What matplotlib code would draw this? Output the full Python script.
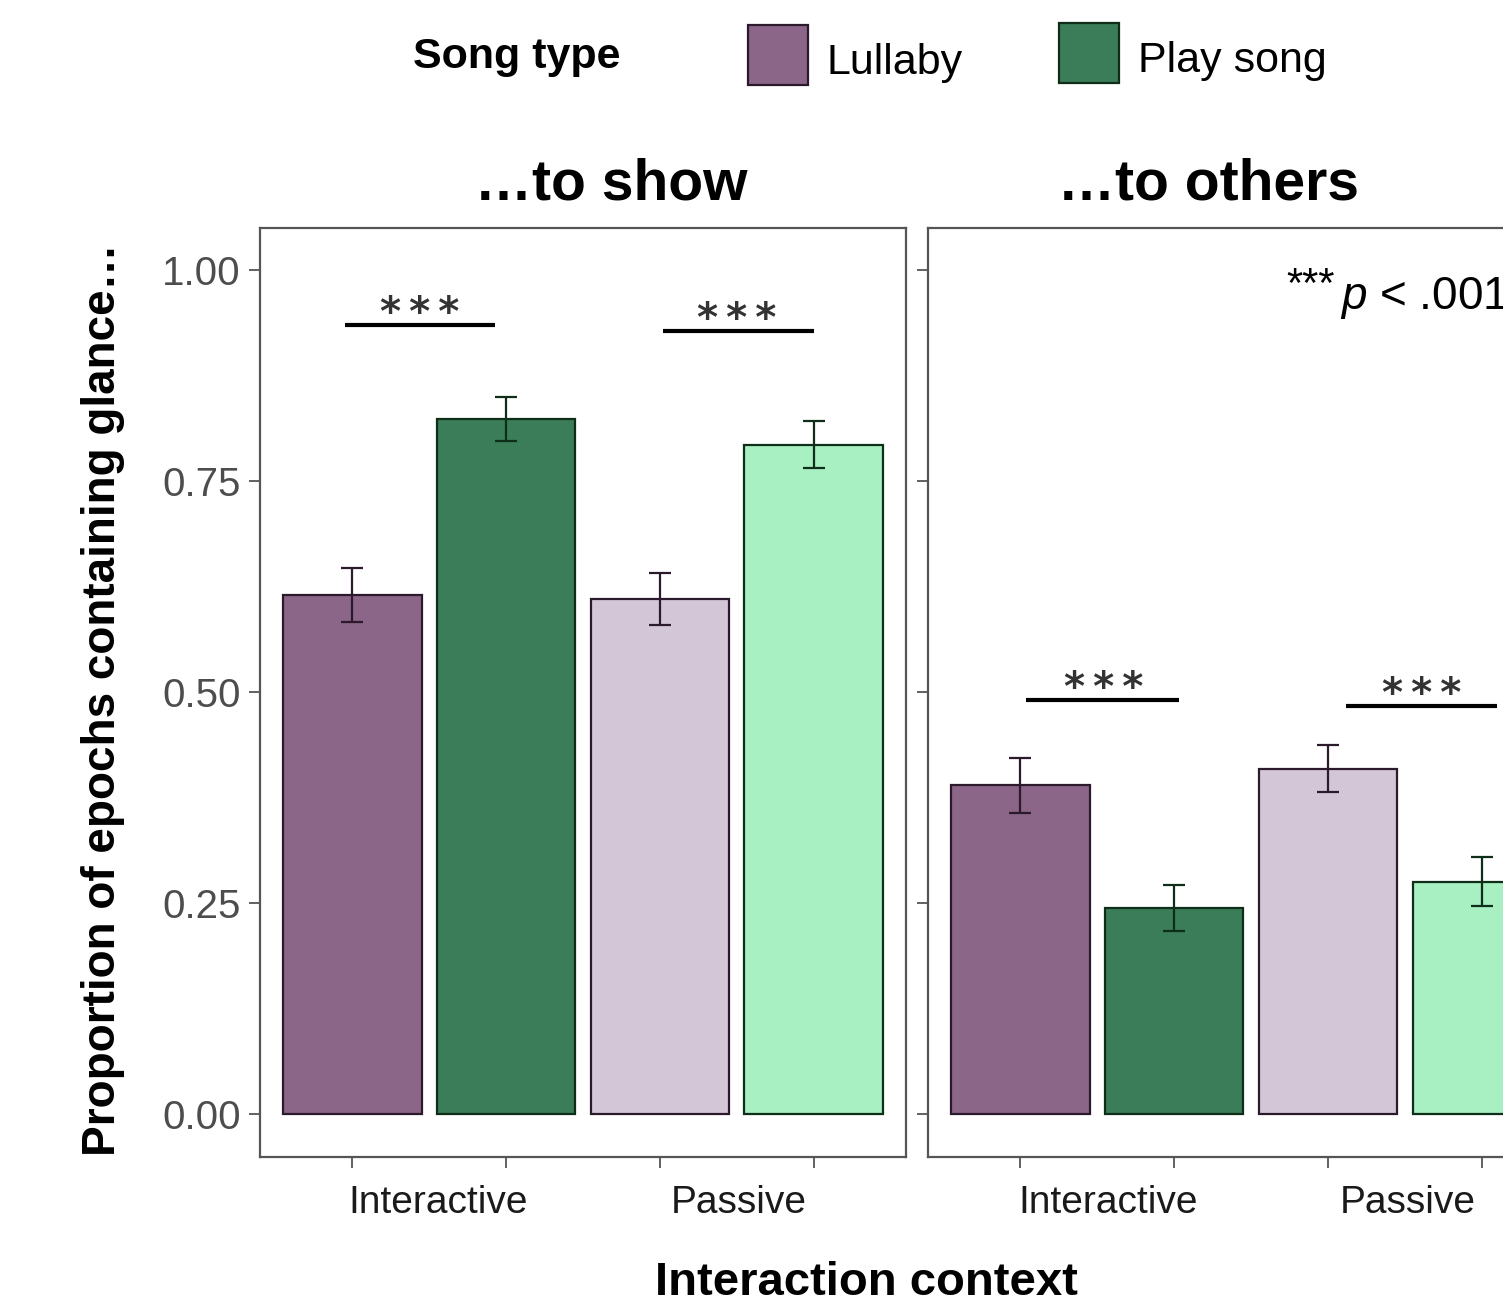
import matplotlib
matplotlib.use("Agg")
import matplotlib.pyplot as plt
from matplotlib.patches import Rectangle
import numpy as np

plt.rcParams['font.family'] = ['Liberation Sans', 'DejaVu Sans']
plt.rcParams['mathtext.fontset'] = 'custom'
plt.rcParams['mathtext.rm'] = 'Liberation Sans'
plt.rcParams['mathtext.it'] = 'Liberation Sans:italic'

# data
panels = ["\u2026to show", "\u2026to others"]
contexts = ["Interactive", "Passive"]
song_types = ["Lullaby", "Play song"]
# order: Interactive-Lullaby, Interactive-Play, Passive-Lullaby, Passive-Play
show_means = [0.615, 0.823, 0.610, 0.793]
show_err = [0.032, 0.026, 0.031, 0.028]
others_means = [0.389, 0.244, 0.409, 0.275]
others_err = [0.033, 0.027, 0.028, 0.029]
means = [show_means, others_means]
errs = [show_err, others_err]

fills = ["#8b6688", "#3b7d58", "#d3c6d6", "#a8efc2"]
edges = ["#2b1a2b", "#0f2e1a", "#2b1a2b", "#0f2e1a"]

# significance brackets: (x0, x1, y, star x)
sig_show = [(0.95, 1.93, 0.935, 1.44), (3.02, 4.0, 0.928, 3.5)]
sig_others = [(1.04, 2.03, 0.4905, 1.54), (3.12, 4.1, 0.4834, 3.61)]
sigs = [sig_show, sig_others]

W, H = 1503, 1305
fig = plt.figure(figsize=(W / 100, H / 100), dpi=100)

axpos = [[260 / W, 1 - 1157 / H, 646 / W, 929 / H],
         [928 / W, 1 - 1157 / H, 646 / W, 929 / H]]
title_x = [611, 1209]
label_x = [[1.56, 3.51], [1.57, 3.52]]

x = np.arange(1, 5)
for i in range(2):
    ax = fig.add_axes(axpos[i])
    for j in range(4):
        ax.bar(x[j], means[i][j], width=0.9, color=fills[j], edgecolor=edges[j],
               linewidth=1.6, zorder=2)
        ax.errorbar(x[j], means[i][j], yerr=errs[i][j], fmt='none', ecolor=edges[j],
                    elinewidth=1.6, capsize=8, capthick=1.6, zorder=3)
    for (x0, x1, yy, sx) in sigs[i]:
        ax.plot([x0, x1], [yy, yy], color='black', linewidth=3, solid_capstyle='butt',
                clip_on=False, zorder=4)
        ax.text(sx, yy + 0.013, "*\u2009*\u2009*", ha='center', va='center',
                fontsize=29, fontweight='bold', family='DejaVu Sans', color='#333333')
    ax.set_xlim(0.4, 4.6)
    ax.set_ylim(-0.0515, 1.0498)
    ax.set_yticks([0, 0.25, 0.5, 0.75, 1.0])
    if i == 0:
        ax.set_yticklabels(["0.00", "0.25", "0.50", "0.75", "1.00"])
    else:
        ax.set_yticklabels([])
    ax.set_xticks(x)
    ax.set_xticklabels([])
    ax.set_xticks(label_x[i], minor=True)
    ax.set_xticklabels(contexts, minor=True)
    ax.tick_params(axis='x', which='minor', length=0, pad=20, labelsize=28,
                   labelcolor='#1a1a1a')
    ax.tick_params(axis='both', which='major', length=8, width=1.3, color='#555555',
                   labelsize=29, labelcolor='#4d4d4d', pad=6)
    for s in ax.spines.values():
        s.set_color('#555555')
        s.set_linewidth(1.6)
    fig.text(title_x[i] / W, 1 - 185 / H, panels[i], ha='center', va='center',
             fontsize=41, fontweight='bold')
    if i == 1:
        ax.text(2.73, 0.981, "***", ha='left', va='center', fontsize=30)
        ax.text(3.078, 0.967, r"$\mathit{p}$ < .001", ha='left', va='center',
                fontsize=33)

fig.text(103 / W, 1 - 700 / H, "Proportion of epochs containing glance\u2026",
         rotation=90, ha='center', va='center', fontsize=33, fontweight='bold')
fig.text(866 / W, 1 - 1283 / H, "Interaction context", ha='center', va='center',
         fontsize=34, fontweight='bold')

# legend
fig.text(517 / W, 1 - 57 / H, "Song type", ha='center', va='center', fontsize=31,
         fontweight='bold')
key_x = [748, 1059]
key_y = [25, 23]
text_x = [826, 1138]
for k in range(2):
    fig.add_artist(Rectangle((key_x[k] / W, 1 - (key_y[k] + 60) / H), 60 / W, 60 / H,
                             transform=fig.transFigure, facecolor=fills[k],
                             edgecolor=edges[k], linewidth=1.6))
    fig.text(text_x[k] / W, 1 - (key_y[k] + 38) / H, song_types[k], ha='left',
             va='center', fontsize=31)

fig.savefig("out.png", dpi=100)
